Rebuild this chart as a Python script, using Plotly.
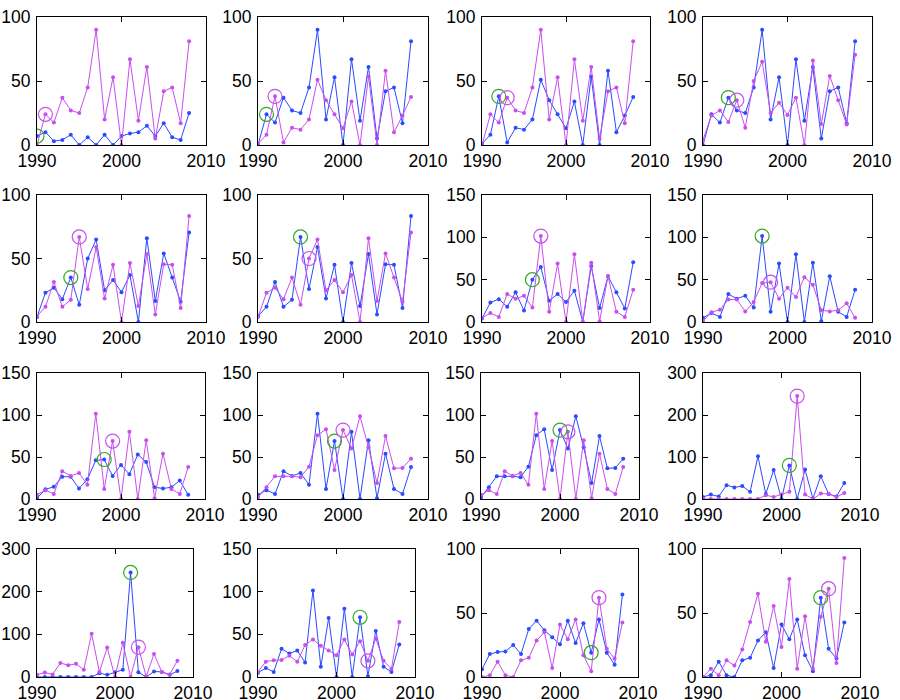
import plotly.graph_objects as go
from plotly.subplots import make_subplots

years = list(range(1990, 2009))

# Series (one value per year 1990..2008)
Z = [7, 10, 3, 4, 8, 0, 6, 0, 8, 0, 7, 9, 10, 15, 7, 17, 6, 4, 25]
A = [0, 24, 17.5, 37, 27, 25, 45, 90, 20, 53, 0, 67, 19, 61, 5, 42, 45, 17, 81]
B = [1, 8, 38, 2, 13.5, 12, 20, 51, 35, 24, 13, 34, 0, 53.5, 0, 58, 10, 23, 37.5]
C = [4, 23, 27, 18, 35, 13.5, 50, 65, 25, 33, 23.5, 37, 0, 66, 16.5, 54, 35, 16, 70.5]
D = [4.5, 12, 31.5, 12, 17.5, 67, 26, 59, 18.5, 45, 0, 46.5, 12.5, 53.5, 6, 45.5, 45, 11, 83.5]
E = [5, 10.5, 6, 33, 27.5, 31, 17, 101.5, 12, 69, 0, 80, 0, 70, 1, 54, 12, 6, 38]
F = [1, 11.5, 14.5, 26.5, 26.5, 12.5, 23.5, 46, 47, 27.5, 40.5, 29.5, 53, 44, 14, 12.5, 14, 22, 5]
G = [2, 14, 27, 27, 27, 26, 38.5, 76, 83, 34.5, 82, 60, 98.5, 61.5, 19, 75, 36.5, 37, 48]
H = [0, 0, 0, 0, 0, 0, 0, 0, 9, 5, 11, 17, 245, 11, 0, 13, 12, 5, 14]
I = [6, 18, 19.5, 20, 25, 18, 37.5, 44, 36.5, 31, 25.5, 44, 26.5, 42, 19, 45, 19, 9.5, 64.5]
J = [0, 1.3, 12, 1.3, 0, 13, 15, 28.5, 35, 7, 41, 29.5, 45, 17, 4.5, 62, 22, 14.4, 42.5]
K = [0, 6.5, 1.3, 13, 9, 21.5, 43, 65, 27.5, 55.5, 23.5, 76.5, 6.5, 47.5, 6.5, 47, 69, 11, 93]

series = {"Z": Z, "A": A, "B": B, "C": C, "D": D, "E": E, "F": F,
          "G": G, "H": H, "I": I, "J": J, "K": K}

# (blue series, magenta series) for each panel, row by row
panel_blue = ["Z", "A", "B", "A", "C", "D", "C", "E", "F", "E", "G", "E", "H", "E", "I", "J"]
panel_magenta = ["A", "B", "A", "C", "D", "C", "E", "F", "E", "G", "E", "H", "E", "I", "J", "K"]
panel_ymax = [100, 100, 100, 100,
              100, 100, 150, 150,
              150, 150, 150, 300,
              300, 150, 100, 100]
x_ticks = [1990, 2000, 2010]

BLUE = "#2a4bff"
MAG = "#c94ef0"
GREEN = "#33aa22"
FONT = "Liberation Sans, Arial, sans-serif"

W, Hh = 900, 700
# panel box extents in window pixels (left, right) and (top, bottom)
panel_x = [(37, 206), (258, 428), (482, 650), (703, 872),
           (37, 206), (258, 428), (482, 650), (703, 872),
           (37, 205), (258, 428), (481, 639), (703, 860),
           (37, 193), (258, 415), (482, 638), (703, 860)]
row_px = [(17, 145), (195, 322), (373, 499), (549, 677)]

fig = make_subplots(rows=4, cols=4)

for p in range(16):
    r, c = divmod(p, 4)
    blue = series[panel_blue[p]]
    mag = series[panel_magenta[p]]
    kw = dict(row=r + 1, col=c + 1)
    fig.add_trace(go.Scatter(x=years, y=blue, mode="lines+markers",
                             line=dict(color=BLUE, width=1),
                             marker=dict(color=BLUE, size=4),
                             showlegend=False, hoverinfo="skip"), **kw)
    fig.add_trace(go.Scatter(x=years, y=mag, mode="lines+markers",
                             line=dict(color=MAG, width=1),
                             marker=dict(color=MAG, size=4),
                             showlegend=False, hoverinfo="skip"), **kw)
    gi = p          # green highlight on the blue series
    mi = p + 1      # magenta highlight on the magenta series
    fig.add_trace(go.Scatter(x=[years[gi]], y=[blue[gi]], mode="markers",
                             marker=dict(symbol="circle-open", size=14, color=GREEN,
                                         line=dict(width=1.2, color=GREEN)),
                             showlegend=False, hoverinfo="skip"), **kw)
    fig.add_trace(go.Scatter(x=[years[mi]], y=[mag[mi]], mode="markers",
                             marker=dict(symbol="circle-open", size=14, color=MAG,
                                         line=dict(width=1.2, color=MAG)),
                             showlegend=False, hoverinfo="skip"), **kw)

    x0, x1 = panel_x[p]
    y0, y1 = row_px[r]
    ymax = panel_ymax[p]
    step = 100 if ymax == 300 else 50
    axis_common = dict(showline=True, mirror="ticks", linecolor="black", linewidth=1,
                       ticks="inside", ticklen=5, tickwidth=1, tickcolor="black",
                       showgrid=False, zeroline=False, automargin=False,
                       tickfont=dict(family=FONT, size=17.5, color="black"))
    fig.update_xaxes(domain=[x0 / W, x1 / W], range=[1990, 2010],
                     tickvals=x_ticks, ticktext=[str(t) for t in x_ticks],
                     ticklabelstandoff=0, **axis_common, **kw)
    fig.update_yaxes(domain=[1 - y1 / Hh, 1 - y0 / Hh], range=[0, ymax],
                     tickvals=list(range(0, ymax + 1, step)),
                     ticklabelstandoff=2, **axis_common, **kw)

fig.update_layout(width=W, height=Hh, margin=dict(l=0, r=0, t=0, b=0, pad=0),
                  plot_bgcolor="white", paper_bgcolor="white",
                  font=dict(family=FONT, size=17.5, color="black"))

# remove the browser's default 8px body margin so the figure fills the window
fig.write_html("out.html", config={"displayModeBar": False},
               post_script="document.body.style.margin='0px';")
